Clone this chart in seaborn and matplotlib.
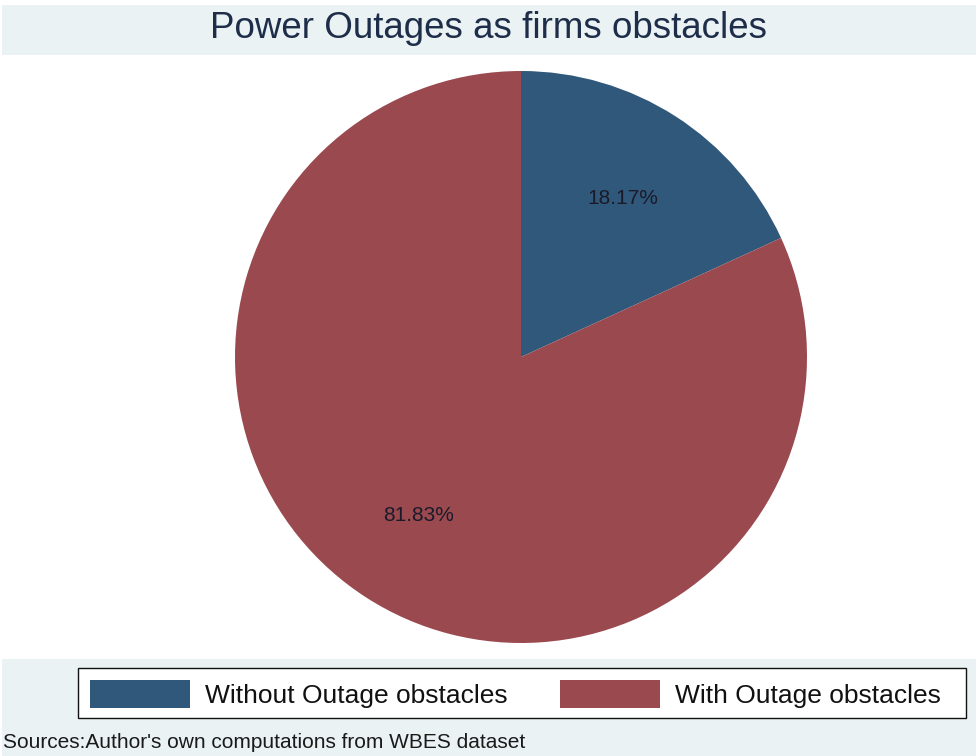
import matplotlib
matplotlib.use("Agg")
import matplotlib.pyplot as plt
from matplotlib.patches import Rectangle
import seaborn as sns

categories = ["Without Outage obstacles", "With Outage obstacles"]
shares = [18.17, 81.83]
colors = ["#30587A", "#9A4A4F"]
title = "Power Outages as firms obstacles"
note = "Sources:Author's own computations from WBES dataset"

sns.set_style("white")
plt.rcParams['font.family'] = ['Liberation Sans', 'DejaVu Sans']

W, H = 976, 756
fig = plt.figure(figsize=(W / 100, H / 100), dpi=100, facecolor="white")

def rect(x0, y0, x1, y1, color, ec="none", lw=0, z=0):
    # pixel coords (top-left origin)
    fig.patches.append(Rectangle((x0 / W, 1 - y1 / H), (x1 - x0) / W, (y1 - y0) / H,
                                 transform=fig.transFigure, facecolor=color,
                                 edgecolor=ec, lw=lw, zorder=z))

band = "#EAF2F3"
rect(2, 5, 976, 55, band)
rect(2, 659, 976, 756, band)
rect(78, 668, 966, 718, "white", ec="#111111", lw=1.0, z=1)

cx, cy, r = 521, 357, 286
ax = fig.add_axes([(cx - r) / W, 1 - (cy + r) / H, 2 * r / W, 2 * r / H])
wedges, texts, autotexts = ax.pie(shares, colors=colors, startangle=90, counterclock=False,
                                  autopct=lambda p: f"{p:.2f}%", pctdistance=0.66,
                                  radius=1, wedgeprops=dict(linewidth=0),
                                  textprops=dict(fontsize=15, color="#1A1A2A"))
ax.set_xlim(-1, 1)
ax.set_ylim(-1, 1)
ax.set_aspect("equal")
ax.axis("off")

fig.text(0.5, 1 - 29 / H, title, ha="center", va="center", fontsize=26.5, color="#1E2E4A")

leg = fig.legend(wedges, categories, ncol=2, loc="center left",
                 bbox_to_anchor=(90 / W, 1 - 694 / H),
                 fontsize=19, frameon=False,
                 handlelength=3.8, handleheight=1.3, handletextpad=0.57,
                 borderpad=0, columnspacing=1.97, borderaxespad=0)
leg.set_zorder(2)
for t in leg.get_texts():
    t.set_color("#111111")

fig.text(3 / W, 1 - 743 / H, note, ha="left", va="center", fontsize=15, color="#1A1A1A")

fig.savefig("out.png", dpi=100, facecolor=fig.get_facecolor())
